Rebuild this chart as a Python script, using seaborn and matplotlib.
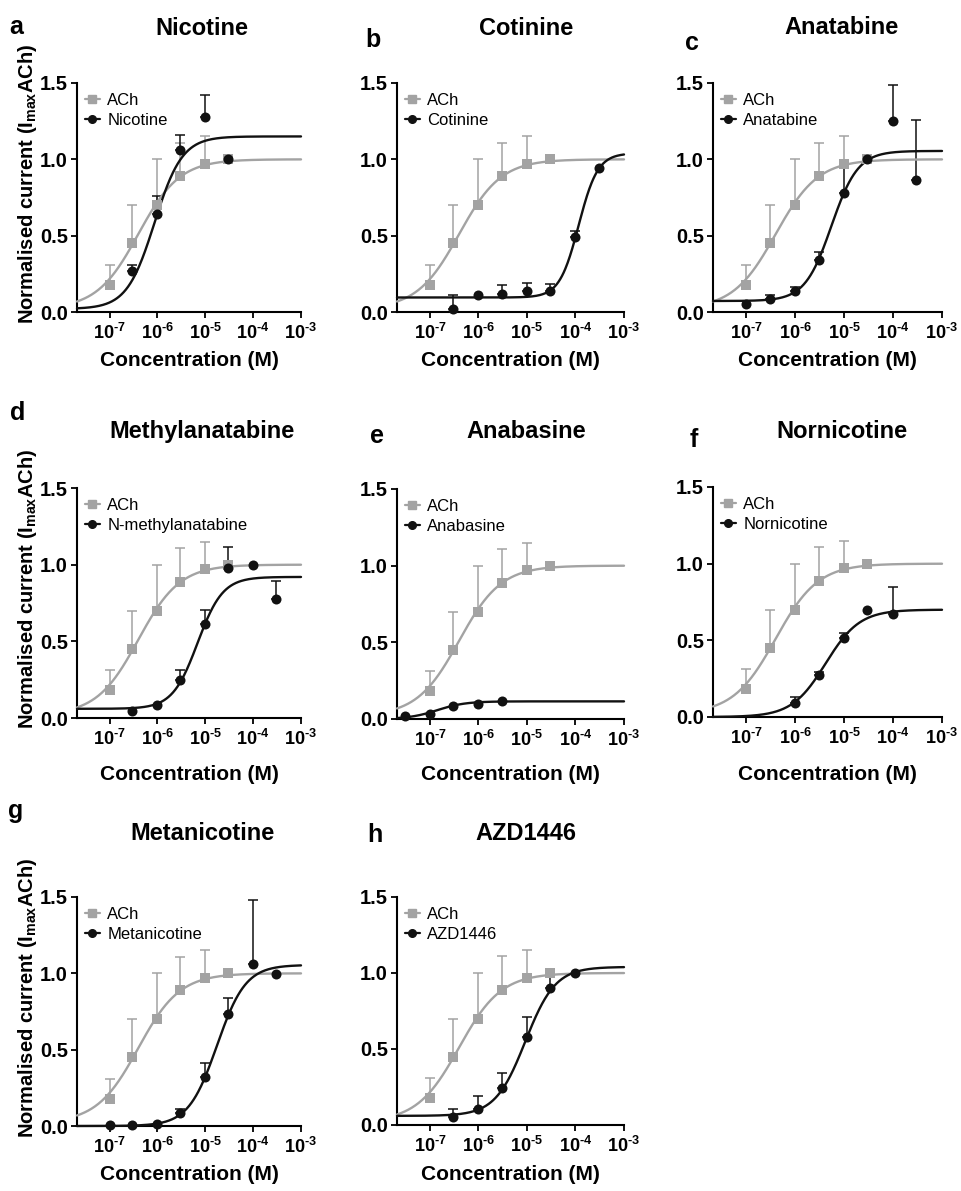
import numpy as np
import pandas as pd
import matplotlib
matplotlib.use("Agg")
import matplotlib.pyplot as plt
import seaborn as sns
from matplotlib.lines import Line2D
from matplotlib.ticker import FixedLocator, FuncFormatter, LogLocator, NullFormatter

# ---------------------------------------------------------------- data
# Acetylcholine reference response (same control in every panel)
ACH_CONC = [1e-7, 3e-7, 1e-6, 3e-6, 1e-5, 3e-5]
ACH_RESP = [0.18, 0.45, 0.70, 0.89, 0.97, 1.00]
ACH_ERR = [0.13, 0.25, 0.30, 0.22, 0.18, 0.0]
ACH_FIT = (0.02, 1.00, -6.40, 1.00)          # bottom, top, logEC50, Hill slope

NIC_CONC = [3e-7, 1e-6, 3e-6, 1e-5, 3e-5]
NIC_RESP = [0.27, 0.64, 1.06, 1.28, 1.00]
NIC_ERR = [0.035, 0.12, 0.10, 0.14, 0.0]
NIC_FIT = (0.02, 1.15, -6.06, 1.5)

COT_CONC = [3e-7, 1e-6, 3e-6, 1e-5, 3e-5, 1e-4, 3e-4]
COT_RESP = [0.02, 0.11, 0.12, 0.14, 0.14, 0.49, 0.94]
COT_ERR = [0.09, 0.0, 0.055, 0.05, 0.045, 0.04, 0.0]
COT_FIT = (0.095, 1.04, -3.935, 2.2)

ANT_CONC = [1e-7, 3e-7, 1e-6, 3e-6, 1e-5, 3e-5, 1e-4, 3e-4]
ANT_RESP = [0.05, 0.087, 0.14, 0.343, 0.78, 1.00, 1.25, 0.867]
ANT_ERR = [0.0, 0.025, 0.025, 0.05, 0.18, 0.0, 0.235, 0.39]
ANT_FIT = (0.072, 1.055, -5.26, 1.6)

MAN_CONC = [3e-7, 1e-6, 3e-6, 1e-5, 3e-5, 1e-4, 3e-4]
MAN_RESP = [0.043, 0.087, 0.25, 0.615, 0.978, 1.00, 0.778]
MAN_ERR = [0.0, 0.0, 0.06, 0.09, 0.135, 0.0, 0.118]
MAN_FIT = (0.06, 0.92, -5.16, 1.65)

ANB_CONC = [3e-8, 1e-7, 3e-7, 1e-6, 3e-6]
ANB_RESP = [0.017, 0.033, 0.087, 0.10, 0.117]
ANB_ERR = [0.0, 0.0, 0.0, 0.0, 0.0]
ANB_FIT = (0.0, 0.115, -6.85, 1.5)

NOR_CONC = [1e-6, 3e-6, 1e-5, 3e-5, 1e-4]
NOR_RESP = [0.094, 0.277, 0.517, 0.698, 0.669]
NOR_ERR = [0.036, 0.017, 0.028, 0.0, 0.177]
NOR_FIT = (0.0, 0.70, -5.377, 1.25)

MET_CONC = [1e-7, 3e-7, 1e-6, 3e-6, 1e-5, 3e-5, 1e-4, 3e-4]
MET_RESP = [0.007, 0.007, 0.015, 0.083, 0.322, 0.733, 1.058, 0.996]
MET_ERR = [0.0, 0.0, 0.0, 0.031, 0.088, 0.106, 0.42, 0.0]
MET_FIT = (0.0, 1.055, -4.755, 1.45)

AZD_CONC = [3e-7, 1e-6, 3e-6, 1e-5, 3e-5, 1e-4]
AZD_RESP = [0.055, 0.103, 0.242, 0.576, 0.90, 1.00]
AZD_ERR = [0.048, 0.087, 0.098, 0.132, 0.094, 0.0]
AZD_FIT = (0.06, 1.04, -5.034, 1.4)

PANEL_LETTERS = ["a", "b", "c", "d", "e", "f", "g", "h"]
TITLES = ["Nicotine", "Cotinine", "Anatabine", "Methylanatabine",
          "Anabasine", "Nornicotine", "Metanicotine", "AZD1446"]
LEGEND_NAMES = ["Nicotine", "Cotinine", "Anatabine", "N-methylanatabine",
                "Anabasine", "Nornicotine", "Metanicotine", "AZD1446"]
COMPOUNDS = [
    (NIC_CONC, NIC_RESP, NIC_ERR, NIC_FIT),
    (COT_CONC, COT_RESP, COT_ERR, COT_FIT),
    (ANT_CONC, ANT_RESP, ANT_ERR, ANT_FIT),
    (MAN_CONC, MAN_RESP, MAN_ERR, MAN_FIT),
    (ANB_CONC, ANB_RESP, ANB_ERR, ANB_FIT),
    (NOR_CONC, NOR_RESP, NOR_ERR, NOR_FIT),
    (MET_CONC, MET_RESP, MET_ERR, MET_FIT),
    (AZD_CONC, AZD_RESP, AZD_ERR, AZD_FIT),
]
X_TICKS = [1e-7, 1e-6, 1e-5, 1e-4, 1e-3]
Y_TICKS = [0.0, 0.5, 1.0, 1.5]

# ---------------------------------------------------------------- style
sns.set_theme(style="ticks")
plt.rcParams.update({
    "font.family": ["Liberation Sans", "DejaVu Sans"],
    "font.weight": "bold",
    "mathtext.fontset": "custom",
    "mathtext.rm": "Liberation Sans",
    "mathtext.bf": "Liberation Sans:bold",
    "mathtext.it": "Liberation Sans:italic",
    "axes.linewidth": 1.5,
    "axes.edgecolor": "black",
    "text.color": "black",
    "axes.labelcolor": "black",
    "xtick.color": "black",
    "ytick.color": "black",
})

GREY = "#a3a3a3"
BLACK = "#111111"
W, H = 962, 1191
LOG_XMIN = -7.68

fig = plt.figure(figsize=(W / 100, H / 100), dpi=100)


def px_rect(left, top, right, bottom):
    return [left / W, 1 - bottom / H, (right - left) / W, (bottom - top) / H]


# axes boxes in pixels: left, top (y=1.5), right, bottom (y=0)
AX_BOXES = [
    (77, 83, 301, 312), (397, 83, 624, 312), (713, 83, 942, 312),
    (77, 488, 301, 718), (397, 489, 624, 719), (713, 487, 942, 717),
    (77, 897, 301, 1126), (397, 897, 624, 1125),
]
TITLE_POS = [(202, 35), (526, 35), (842, 34),
             (202, 438), (526, 438), (842, 438),
             (202, 840), (526, 840)]
LETTER_POS = [(9, 34), (365, 47), (685, 50),
              (10, 420), (370, 443), (690, 447),
              (8, 818), (367, 842)]
XLABEL_Y = [361, 361, 361, 774, 774, 774, 1174, 1174]


def hill(logx, fit):
    bottom, top, logec50, n = fit
    return bottom + (top - bottom) / (1 + 10 ** ((logec50 - logx) * n))


def draw_series(ax, conc, resp, err, fit, color, marker, size):
    logx = np.linspace(LOG_XMIN, -3, 400)
    curve = pd.DataFrame({"x": 10 ** logx, "y": hill(logx, fit)})
    sns.lineplot(data=curve, x="x", y="y", ax=ax, color=color, lw=1.7,
                 zorder=3, clip_on=False)
    conc = np.asarray(conc)
    resp = np.asarray(resp)
    err = np.asarray(err)
    m = err > 0
    if m.any():
        ax.errorbar(conc[m], resp[m], yerr=[np.zeros(m.sum()), err[m]],
                    fmt="none", ecolor=color, elinewidth=1.1, capsize=3.5,
                    capthick=1.1, zorder=2)
    sns.scatterplot(x=conc, y=resp, ax=ax, marker=marker, s=size,
                    color=color, edgecolor=color, linewidth=0, zorder=5,
                    clip_on=False, legend=False)


xfmt = FuncFormatter(
    lambda v, p: "$\\mathbf{10^{\u2010%d}}$" % abs(int(round(np.log10(v)))))
yfmt = FuncFormatter(lambda v, p: "%.1f" % v)

for i, (box, (conc, resp, err, fit)) in enumerate(zip(AX_BOXES, COMPOUNDS)):
    ax = fig.add_axes(px_rect(*box))
    ax.set_xscale("log")
    draw_series(ax, ACH_CONC, ACH_RESP, ACH_ERR, ACH_FIT, GREY, "s", 48)
    draw_series(ax, conc, resp, err, fit, BLACK, "o", 52)

    ax.set_xlim(10 ** LOG_XMIN, 1e-3)
    ax.set_ylim(0, 1.5)
    ax.xaxis.set_major_locator(FixedLocator(X_TICKS))
    ax.xaxis.set_major_formatter(xfmt)
    ax.xaxis.set_minor_locator(LogLocator(base=10, subs=np.arange(2, 10)))
    ax.xaxis.set_minor_formatter(NullFormatter())
    ax.yaxis.set_major_locator(FixedLocator(Y_TICKS))
    ax.yaxis.set_major_formatter(yfmt)
    ax.tick_params(axis="both", which="major", direction="out", length=4.5,
                   width=1.3, color="black", pad=2)
    ax.tick_params(axis="x", which="minor", direction="out", length=2.5,
                   width=0.9, color="black")
    ax.tick_params(axis="x", labelsize=13, pad=3)
    ax.tick_params(axis="y", labelsize=14.5)
    ax.set_xlabel("")
    ax.set_ylabel("")
    sns.despine(ax=ax)

    handles = [
        Line2D([], [], color=GREY, marker="s", markersize=5.5, lw=1.6),
        Line2D([], [], color=BLACK, marker="o", markersize=5.5, lw=1.6),
    ]
    ax.legend(handles, ["ACh", LEGEND_NAMES[i]], loc="upper left",
              bbox_to_anchor=(0.02, 0.97), frameon=False,
              prop={"size": 12, "weight": "normal"}, handlelength=0.9,
              handletextpad=0.45, labelspacing=0.3, borderaxespad=0,
              borderpad=0.2)

    l, t, r, b = box
    tx, ty = TITLE_POS[i]
    fig.text(tx / W, 1 - ty / H, TITLES[i], ha="center", va="baseline",
             fontsize=17, weight="bold")
    lx, ly = LETTER_POS[i]
    fig.text(lx / W, 1 - ly / H, PANEL_LETTERS[i], ha="left", va="baseline",
             fontsize=18, weight="bold")
    fig.text(((l + r) / 2) / W, 1 - XLABEL_Y[i] / H, "Concentration (M)",
             ha="center", va="center", fontsize=15, weight="bold")
    if i in (0, 3, 6):
        yc = (t + b) / 2 - 14
        fig.text(28 / W, 1 - yc / H, r"Normalised current (I$_{\mathbf{max}}$ACh)",
                 rotation=90, ha="center", va="center", fontsize=14.5,
                 weight="bold")

fig.savefig("out.png", dpi=100)
